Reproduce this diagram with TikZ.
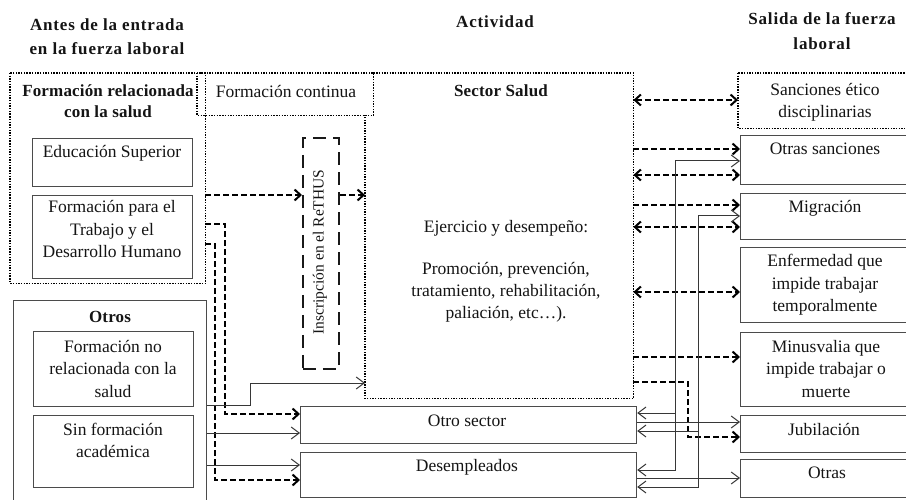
\documentclass[tikz,border=0pt]{standalone}
\usepackage{fontspec}
\setmainfont{Liberation Serif}
\usetikzlibrary{arrows.meta}
\definecolor{boxgray}{RGB}{75,75,75}
\definecolor{linegray}{RGB}{55,55,55}
\begin{document}
\begin{tikzpicture}[x=1pt,y=-1pt,
  txt/.style={font=\fontsize{17.5}{22.5}\selectfont, inner sep=0pt, anchor=base, text=black!92},
  hd/.style={font=\fontsize{17}{22}\selectfont\bfseries\addfontfeatures{LetterSpace=1}, inner sep=0pt, anchor=base, text=black!92},
  ttl/.style={font=\fontsize{17}{22}\selectfont\bfseries\addfontfeatures{LetterSpace=5}, inner sep=0pt, anchor=base, text=black!92},
  rot/.style={font=\fontsize{15.5}{18}\selectfont, inner sep=0pt, rotate=90, text=black!92},
  box/.style={draw=boxgray, line width=1.2pt, inner sep=0pt, anchor=north west},
  hid/.style={inner sep=0pt, anchor=north west},
  dotbox/.style={draw=black, line width=1.5pt, dash pattern=on 1.4pt off 1.3pt},
  dashbox/.style={draw=black!90, line width=1.8pt, dash pattern=on 13pt off 7pt, inner sep=0pt, anchor=north west},
  dcon/.style={draw=black, line width=1.6pt, dash pattern=on 6pt off 3pt},
  scon/.style={draw=linegray, line width=1pt},
  dtip/.tip={Straight Barb[length=6pt,width=11pt,line width=2pt]},
  stip/.tip={Straight Barb[length=8pt,width=12pt,line width=1pt]}
]
\useasboundingbox (0,0) rectangle (906,500);
\clip (0,0) rectangle (906,500);

% ---------- column titles ----------
\node[ttl] (t1a) at (107,31) {Antes de la entrada};
\node[ttl] (t1b) at (107,55) {en la fuerza laboral};
\node[ttl] (t2)  at (495,28) {Actividad};
\node[ttl] (t3a) at (822,25) {Salida de la fuerza};
\node[ttl] (t3b) at (822,50) {laboral};

% ---------- dotted groups ----------
\node[hid, minimum width=195pt, minimum height=210pt] (A) at (10,73) {};
\draw[dotbox] (A.north west) rectangle (A.south east);
\node[hid, minimum width=176pt, minimum height=42pt] (B) at (197,73) {};
\draw[dotbox] (B.north west) rectangle (B.south east);
\node[hid, minimum width=268pt, minimum height=325pt] (sector) at (365,73) {};
\draw[dotbox] (B.north east) -- (sector.north east) -- (sector.south east) -- (sector.south west) -- (sector.west |- B.south);

\node[hd] (hA1) at (108,97) {Formación relacionada};
\node[hd] (hA2) at (108,118) {con la salud};
\node[txt] (hB) at (286,98) {Formación continua};
\node[hd] (hS) at (501,97) {Sector Salud};
\node[txt] (s1) at (506,233) {Ejercicio y desempeño:};
\node[txt] (s2) at (506,274) {Promoción, prevención,};
\node[txt] (s3) at (506,296) {tratamiento, rehabilitación,};
\node[txt] (s4) at (506,318) {paliación, etc…).};

% ---------- left boxes ----------
\node[box, minimum width=160pt, minimum height=48pt] (edu) at (32,138) {};
\node[txt] (edut) at (112,158) {Educación Superior};
\node[box, minimum width=160pt, minimum height=83pt] (ftdh) at (32,195) {};
\node[txt] (ft1) at (112,213) {Formación para el};
\node[txt] (ft2) at (112,236) {Trabajo y el};
\node[txt] (ft3) at (112,258) {Desarrollo Humano};

\node[box, minimum width=193pt, minimum height=230pt] (otros) at (13,300) {};
\node[hd] (otrost) at (110,322) {Otros};
\node[box, minimum width=160pt, minimum height=75pt] (fnr) at (33,331) {};
\node[txt] (fn1) at (113,352) {Formación no};
\node[txt] (fn2) at (113,374) {relacionada con la};
\node[txt] (fn3) at (113,397) {salud};
\node[box, minimum width=160pt, minimum height=72pt] (sfa) at (33,415) {};
\node[txt] (sf1) at (113,435) {Sin formación};
\node[txt] (sf2) at (113,457) {académica};

% ---------- ReTHUS ----------
\node[dashbox, minimum width=36pt, minimum height=231pt] (rethus) at (302,137) {};
\node[rot] (rethust) at (320,252) {Inscripción en el ReTHUS};

% ---------- middle bottom boxes ----------
\node[box, minimum width=336pt, minimum height=37pt] (otro) at (300,406) {};
\node[txt] (otrot) at (467,426) {Otro sector};
\node[box, minimum width=336pt, minimum height=45pt] (desemp) at (300,452) {};
\node[txt] (desempt) at (467,471) {Desempleados};

% ---------- right boxes ----------
\node[hid, minimum width=180pt, minimum height=55pt] (sanc) at (738,73) {};
\draw[dotbox] (sanc.north west) rectangle (sanc.south east);
\node[txt] (sa1) at (825,96) {Sanciones ético};
\node[txt] (sa2) at (825,118) {disciplinarias};
\node[box, minimum width=180pt, minimum height=49pt] (osanc) at (740,135) {};
\node[txt] (osanct) at (825,155) {Otras sanciones};
\node[box, minimum width=180pt, minimum height=46pt] (migr) at (740,193) {};
\node[txt] (migrt) at (825,213) {Migración};
\node[box, minimum width=180pt, minimum height=75pt] (enf) at (740,247) {};
\node[txt] (en1) at (825,266) {Enfermedad que};
\node[txt] (en2) at (825,289) {impide trabajar};
\node[txt] (en3) at (825,311) {temporalmente};
\node[box, minimum width=180pt, minimum height=74pt] (minus) at (740,332) {};
\node[txt] (mi1) at (826,352) {Minusvalia que};
\node[txt] (mi2) at (826,374) {impide trabajar o};
\node[txt] (mi3) at (826,397) {muerte};
\node[box, minimum width=180pt, minimum height=37pt] (jubi) at (740,415) {};
\node[txt] (jubit) at (824,435) {Jubilación};
\node[box, minimum width=180pt, minimum height=38pt] (otras) at (740,459) {};
\node[txt] (otrast) at (827,478) {Otras};

% ---------- left connectors ----------
\draw[dcon,-{dtip}] (A.east |- 0,195) -- (rethus.west |- 0,195);
\draw[dcon,-{dtip}] (rethus.east |- 0,195) -- (sector.west |- 0,195);
\draw[dcon,-{dtip}] (A.east |- 0,224) -| (225,414) -- (otro.west |- 0,414);
\draw[dcon,-{dtip}] (A.east |- 0,244) -| (215,480) -- (desemp.west |- 0,480);
\draw[scon,-{stip}] (otros.east |- 0,405) -| (250,383) -- (sector.west |- 0,383);
\draw[scon,-{stip}] (otros.east |- 0,433) -- (otro.west |- 0,433);
\draw[scon,-{stip}] (otros.east |- 0,465) -- (desemp.west |- 0,465);

% ---------- right dashed connectors ----------
\draw[dcon,{dtip}-{dtip}] (sector.east |- 0,100) -- (sanc.west |- 0,100);
\draw[dcon,-{dtip}] (sector.east |- 0,149) -- (osanc.west |- 0,149);
\draw[dcon,{dtip}-{dtip}] (sector.east |- 0,175) -- (osanc.west |- 0,175);
\draw[dcon,-{dtip}] (sector.east |- 0,205) -- (migr.west |- 0,205);
\draw[dcon,{dtip}-{dtip}] (sector.east |- 0,227) -- (migr.west |- 0,227);
\draw[dcon,{dtip}-{dtip}] (sector.east |- 0,292) -- (enf.west |- 0,292);
\draw[dcon,-{dtip}] (sector.east |- 0,357) -- (minus.west |- 0,357);
\draw[dcon,-{dtip}] (sector.east |- 0,382) -| (688,437) -- (jubi.west |- 0,437);

% ---------- right solid connectors ----------
\draw[scon,{stip}-{stip}] (otro.east |- 0,413) -- (675,413) |- (osanc.west |- 0,161);
\draw[scon,{stip}-] (desemp.east |- 0,470) -| (675,413);
\draw[scon,{stip}-{stip}] (otro.east |- 0,431) -- (698,431) |- (migr.west |- 0,216);
\draw[scon,{stip}-] (desemp.east |- 0,487) -| (698,431);
\draw[scon,-{stip}] (otro.east |- 0,422) -- (jubi.west |- 0,422);
\draw[scon,-{stip}] (desemp.east |- 0,478) -- (otras.west |- 0,478);
\end{tikzpicture}
\end{document}
